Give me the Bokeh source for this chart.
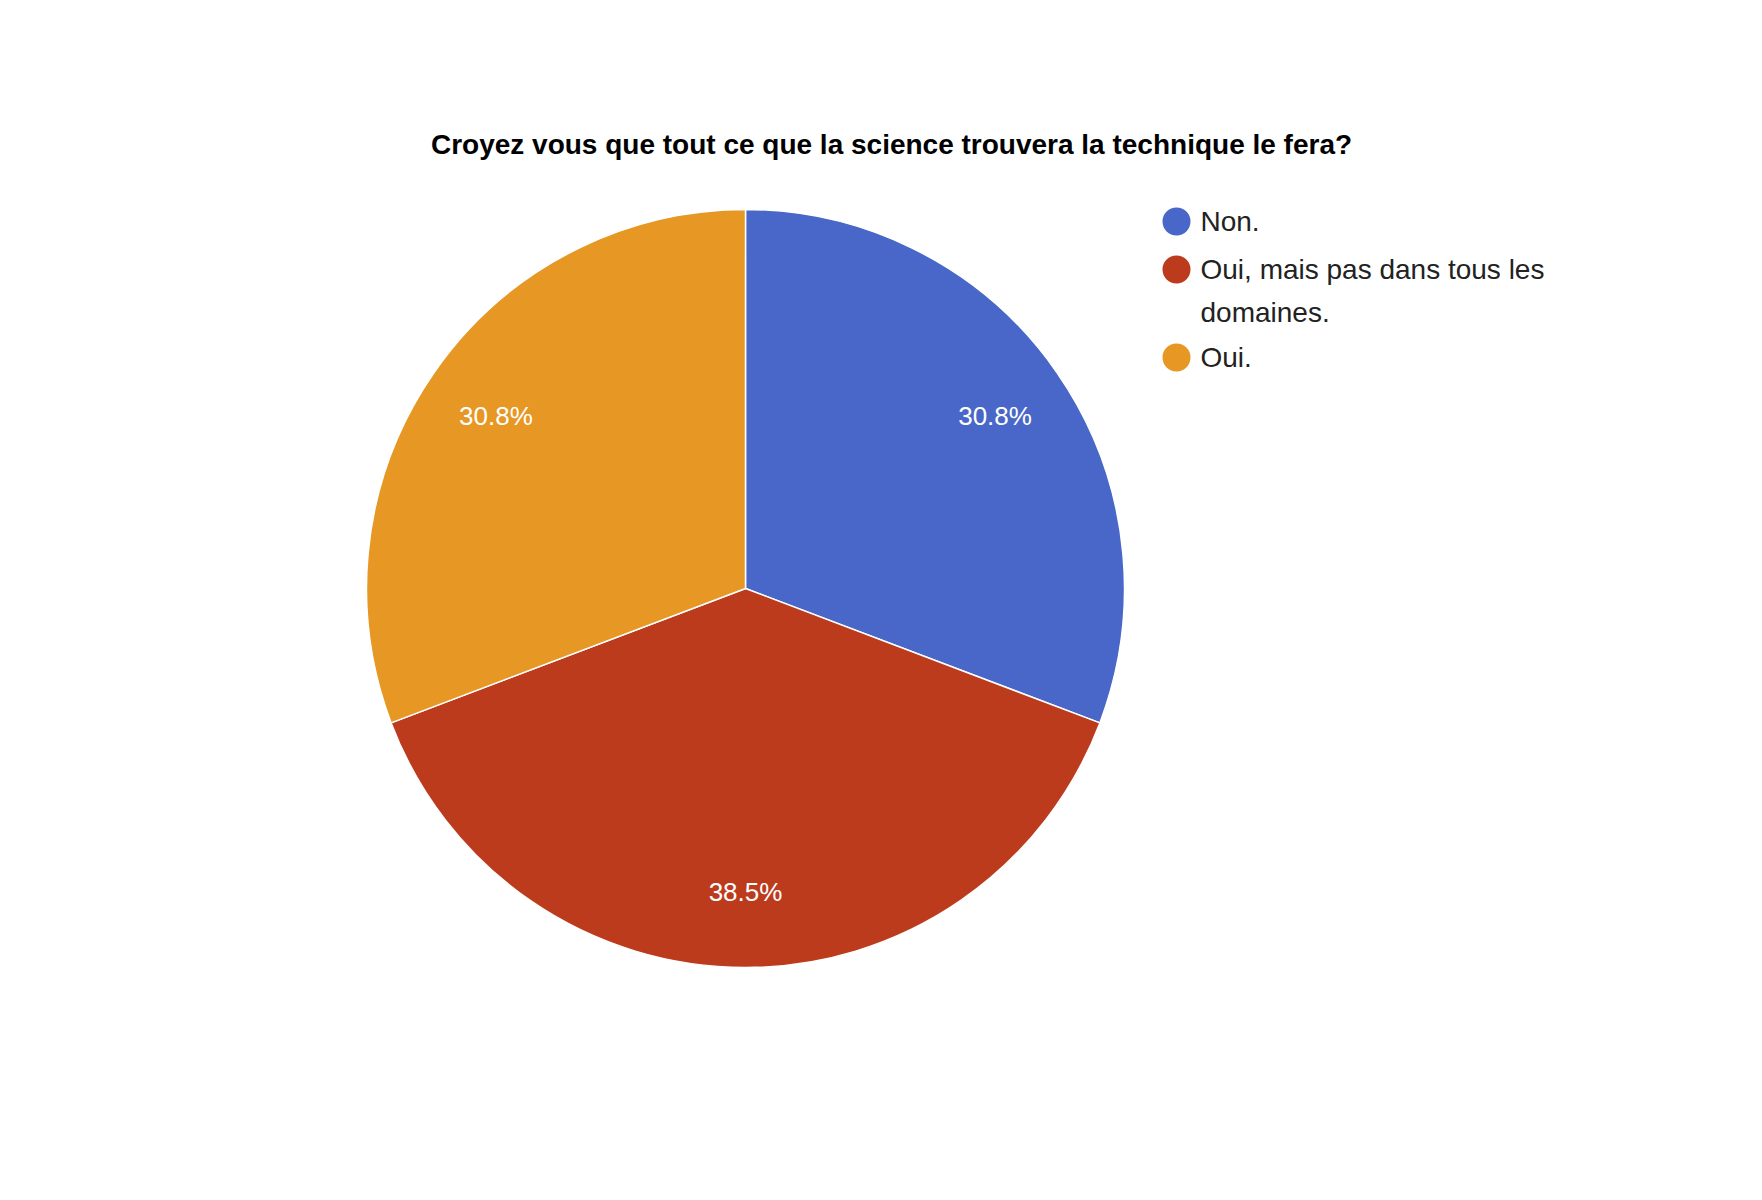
import math
from bokeh.plotting import figure
from bokeh.models import Range1d, ColumnDataSource
from bokeh.core.properties import value
from bokeh.embed import file_html
from bokeh.resources import INLINE

title = "Croyez vous que tout ce que la science trouvera la technique le fera?"
categories = ["Non.", "Oui, mais pas dans tous les domaines.", "Oui."]
legend_lines = [["Non."], ["Oui, mais pas dans tous les", "domaines."], ["Oui."]]
counts = [4, 5, 4]
colors = ["#4867c8", "#bd3b1d", "#e69724"]

W, H = 1746, 1184
p = figure(width=W, height=H, output_backend="svg", toolbar_location=None,
           x_range=Range1d(0, W), y_range=Range1d(0, H), min_border=0)
p.axis.visible = False
p.grid.visible = False
p.outline_line_color = None

def Y(ry):
    return H - (ry - 8)

cx, cy, R = 753 - 8, Y(596), 379
total = sum(counts)
starts, ends, labels, lx, ly = [], [], [], [], []
a = math.pi / 2
for c in counts:
    sweep = 2 * math.pi * c / total
    starts.append(a - sweep)
    ends.append(a)
    mid = a - sweep / 2
    lx.append(cx + 0.8 * R * math.cos(mid))
    ly.append(cy + 0.8 * R * math.sin(mid))
    labels.append(f"{100 * c / total:.1f}%")
    a -= sweep
src = ColumnDataSource(dict(s=starts, e=ends, color=colors))
p.wedge(x=cx, y=cy, radius=R, start_angle="s", end_angle="e", color="color",
        line_color="white", line_width=1.5, source=src)
p.text(x=lx, y=ly, text=labels, text_color="white", text_font=value("Liberation Sans"),
       text_font_size="26px", text_align="center", text_baseline="middle")

p.text(x=[899 - 8], y=[Y(152)], text=[title], text_font=value("Liberation Sans"),
       text_font_style="bold", text_font_size="28px", text_align="center",
       text_baseline="middle", text_color="#000000")

row_y = [229, 277, 365]
for i, lines in enumerate(legend_lines):
    p.scatter(x=[1184 - 8], y=[Y(row_y[i])], size=28, color=colors[i], line_color=None)
    for j, t in enumerate(lines):
        p.text(x=[1208 - 8], y=[Y(row_y[i] + 43 * j)], text=[t],
               text_font=value("Liberation Sans"), text_font_size="28px",
               text_baseline="middle", text_color="#222222")

open("out.html", "w").write(file_html(p, INLINE))
